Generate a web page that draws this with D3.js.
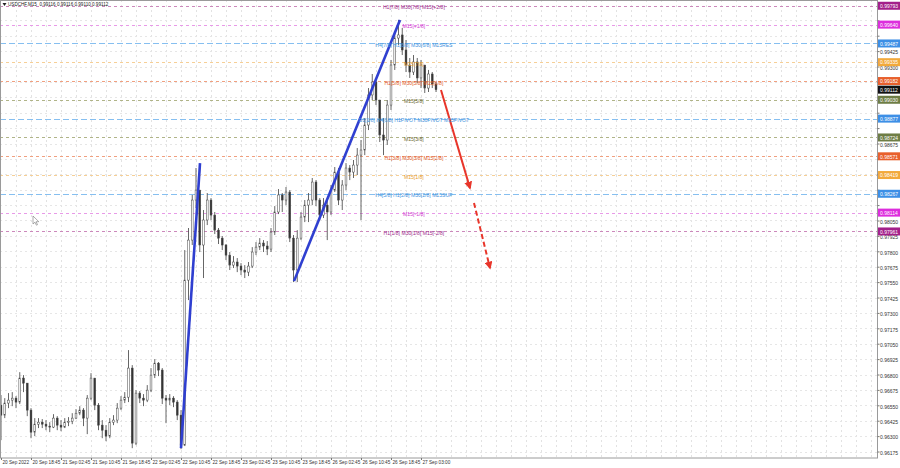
<!DOCTYPE html>
<html><head><meta charset="utf-8">
<script src="https://cdn.jsdelivr.net/npm/d3@7"></script>
<style>body{margin:0;background:#fff}svg{display:block;font-family:"Liberation Sans",Arial,sans-serif}</style>
</head><body><svg id="c" width="900" height="468"></svg>
<script>
// ---- DATA (hourly bars) ----
const firstOpen = 0.96551;
const closes = [0.96470,0.96568,0.96592,0.96608,0.96576,0.96771,0.96730,0.96511,0.96332,0.96397,
0.96413,0.96397,0.96381,0.96373,0.96446,0.96389,0.96373,0.96413,0.96421,0.96446,
0.96486,0.96511,0.96446,0.96608,0.96771,0.96551,0.96389,0.96348,0.96300,0.96413,
0.96430,0.96527,0.96592,0.96616,0.96852,0.96243,0.96649,0.96608,0.96592,0.96673,
0.96795,0.96892,0.96836,0.96608,0.96592,0.96608,0.96576,0.96470,0.96227,0.97566,
0.97891,0.98216,0.98297,0.97851,0.98054,0.98216,0.98094,0.97972,0.97907,0.97851,
0.97769,0.97688,0.97713,0.97680,0.97648,0.97631,0.97680,0.97794,0.97834,0.97867,
0.97843,0.97818,0.97956,0.98119,0.98257,0.98216,0.98281,0.97907,0.97648,0.97907,
0.98078,0.98175,0.98216,0.98362,0.98216,0.98094,0.98175,0.98119,0.98297,0.98443,
0.98216,0.98338,0.98476,0.98443,0.98500,0.98581,0.98622,0.98825,0.99069,0.99174,
0.99028,0.98744,0.98703,0.98987,0.99312,0.99531,0.99556,0.99434,0.99312,0.99255,
0.99337,0.99207,0.99312,0.99125,0.99239,0.99158,0.99112];
const highs = [0.96633,0.96608,0.96649,0.96657,0.96624,0.96819,0.96795,0.96730,0.96527,0.96446,
0.96446,0.96438,0.96430,0.96413,0.96478,0.96462,0.96430,0.96446,0.96454,0.96486,
0.96519,0.96543,0.96527,0.96633,0.96811,0.96754,0.96568,0.96430,0.96389,0.96446,
0.96470,0.96568,0.96624,0.96657,0.96998,0.96876,0.96673,0.96665,0.96641,0.96714,
0.96852,0.96925,0.96901,0.96852,0.96633,0.96641,0.96624,0.96592,0.96511,0.97810,
0.97989,0.98257,0.98476,0.98297,0.98135,0.98273,0.98232,0.98119,0.97989,0.97924,
0.97859,0.97794,0.97761,0.97745,0.97704,0.97688,0.97713,0.97834,0.97875,0.97907,
0.97891,0.97883,0.97989,0.98167,0.98305,0.98273,0.98322,0.98297,0.97932,0.97972,
0.98119,0.98216,0.98273,0.98395,0.98378,0.98232,0.98232,0.98216,0.98338,0.98484,
0.98476,0.98378,0.98516,0.98500,0.98541,0.98638,0.98703,0.98882,0.99125,0.99239,
0.99190,0.99028,0.98882,0.99028,0.99353,0.99580,0.99678,0.99613,0.99515,0.99369,
0.99393,0.99369,0.99353,0.99312,0.99272,0.99255,0.99174];
const lows = [0.96267,0.96446,0.96527,0.96543,0.96527,0.96560,0.96657,0.96462,0.96283,0.96300,
0.96365,0.96365,0.96348,0.96332,0.96365,0.96348,0.96340,0.96365,0.96381,0.96397,
0.96438,0.96470,0.96381,0.96316,0.96592,0.96511,0.96348,0.96283,0.96259,0.96283,
0.96389,0.96405,0.96511,0.96568,0.96576,0.96202,0.96227,0.96568,0.96543,0.96576,
0.96657,0.96771,0.96787,0.96560,0.96405,0.96551,0.96535,0.96430,0.96194,0.96219,
0.97404,0.97851,0.98151,0.97794,0.97583,0.98013,0.98054,0.97940,0.97859,0.97810,
0.97729,0.97648,0.97664,0.97631,0.97607,0.97583,0.97599,0.97664,0.97769,0.97810,
0.97794,0.97769,0.97794,0.97932,0.98102,0.98119,0.98175,0.97875,0.97550,0.97550,
0.97891,0.98037,0.98037,0.98175,0.98167,0.98054,0.98070,0.97891,0.98094,0.98281,
0.98175,0.98135,0.98297,0.98378,0.98395,0.98419,0.98054,0.98581,0.98784,0.99028,
0.98987,0.98687,0.98581,0.98663,0.98947,0.99272,0.99475,0.99393,0.99255,0.99207,
0.99231,0.99166,0.99125,0.99085,0.99093,0.99125,0.99093];

const timeLabels = ["20 Sep 2022","20 Sep 18:45","21 Sep 02:45","21 Sep 10:45","21 Sep 18:45","22 Sep 02:45","22 Sep 10:45","22 Sep 18:45","23 Sep 02:45","23 Sep 10:45","23 Sep 18:45","26 Sep 02:45","26 Sep 10:45","26 Sep 18:45","27 Sep 03:00"];
const timeLabelBars = [0,8,16,24,32,40,48,56,64,72,80,88,96,104,112];
const gridBars = [4,8,12,16,20,24,28,32,36,40,44,48,52,56,60,64,68,72,76,80,84,88,92,96,100,104,108,112,116,120,124,128,132,136,140,144,148,152,156,160,164,168,172,176,180,184,188,192,196,200,204,208,212,216,220,224,228,232];
const priceTicks = [0.99675,0.99550,0.99425,0.99300,0.99175,0.99050,0.98925,0.98800,0.98675,0.98550,0.98425,0.98300,0.98175,0.98050,0.97925,0.97800,0.97675,0.97550,0.97425,0.97300,0.97175,0.97050,0.96925,0.96800,0.96675,0.96550,0.96425,0.96300,0.96175];

const levelPrices = [0.99793,0.99640,0.99487,0.99335,0.99182,0.99030,0.98877,0.98724,0.98571,0.98419,0.98267,0.98114,0.97961];
const levelNames = ["H1[7/8] M30[7/8] M15[+2/8]","M15[+1/8]","H4[7/8] H1[6/8] M30[6/8] M15RES","M15[7/8]","H1[5/8] M30[5/8] M15[6/8]","M15[5/8]","D1[1/8] H4[6/8] H1PIVOT M30PIVOT M15PIVOT","M15[3/8]","H1[3/8] M30[3/8] M15[2/8]","M15[1/8]","H4[5/8] H1[2/8] M30[2/8] M15SUP","M15[-1/8]","H1[1/8] M30[1/8] M15[-2/8]"];
const levelKinds = ["purple","magenta","blue","gold","red","olive","blue","olive","red","gold","blue","magenta","purple"];

const currentPrice = 0.99112;
const headerText = "USDCHF,M15  0.99116 0.99116 0.99110 0.99112";

const blueTrend1 = [[48,0.96202],[53.07,0.98516]];
const blueTrend2 = [[78.13,0.97558],[106.4,0.99678]];
const redArrow = [[117.33,0.99109],[125.07,0.98313]];
const redDashedArrow = [[126.13,0.98192],[130.4,0.97664]];
const labelBar = 110.1;

// ---- STYLE ----
const kindColor = {purple:"#a3208a",magenta:"#dd2edd",blue:"#3d8fe6",gold:"#f2a93b",red:"#e8602c",olive:"#6e7d45"};
const lineColor = {purple:"#cc88bb",magenta:"#e89ae8",blue:"#86bff0",gold:"#f6cf96",red:"#f0a080",olive:"#b0b488"};
const textColor = {purple:"#9c2a8c",magenta:"#d23bd2",blue:"#3f93e0",gold:"#e8a030",red:"#e05a25",olive:"#6e6b35"};

const svg = d3.select("#c");
const plotR = 877, plotB = 458;
const x = d3.scaleLinear().domain([0,100]).range([1,376]);
const y = d3.scaleLinear().domain([0.96175,0.99675]).range([451.5,20.3]);

svg.append("defs").append("clipPath").attr("id","pc").append("rect")
  .attr("x",0).attr("y",0).attr("width",plotR).attr("height",plotB);
svg.select("defs").append("marker").attr("id","ah").attr("viewBox","0 0 10 10")
  .attr("refX",8).attr("refY",5).attr("markerWidth",4).attr("markerHeight",4)
  .attr("orient","auto").append("path").attr("d","M0,0 L10,5 L0,10 z").attr("fill","#e8352a");

const g = svg.append("g").attr("clip-path","url(#pc)");

// grid
g.selectAll(".vg").data(gridBars).join("line")
  .attr("x1",d=>Math.round(x(d))+0.5).attr("x2",d=>Math.round(x(d))+0.5)
  .attr("y1",0).attr("y2",plotB)
  .attr("stroke","#e2e2e2").attr("stroke-width",1).attr("stroke-dasharray","2,3");
g.selectAll(".hg").data(priceTicks).join("line")
  .attr("x1",0).attr("x2",plotR)
  .attr("y1",d=>Math.round(y(d))+0.5).attr("y2",d=>Math.round(y(d))+0.5)
  .attr("stroke","#e6e6e6").attr("stroke-width",1).attr("stroke-dasharray","2,3");

// level lines
g.selectAll(".lv").data(levelPrices).join("line")
  .attr("x1",0).attr("x2",plotR)
  .attr("y1",d=>Math.round(y(d))+0.5).attr("y2",d=>Math.round(y(d))+0.5)
  .attr("stroke",(d,i)=>lineColor[levelKinds[i]]).attr("stroke-width",1)
  .attr("stroke-dasharray",(d,i)=>levelKinds[i]==="blue"?"6,3":"3,3");

// candles
const bars = closes.map((c,i)=>({i, o: i===0?firstOpen:closes[i-1], h:highs[i], l:lows[i], c}));
g.selectAll(".wk").data(bars).join("line")
  .attr("x1",d=>x(d.i)).attr("x2",d=>x(d.i))
  .attr("y1",d=>y(d.h)).attr("y2",d=>y(d.l))
  .attr("stroke","#555").attr("stroke-width",0.9);
g.selectAll(".bd").data(bars).join("rect")
  .attr("x",d=>x(d.i)-0.9).attr("width",1.8)
  .attr("y",d=>y(Math.max(d.o,d.c)))
  .attr("height",d=>Math.max(1,Math.abs(y(d.o)-y(d.c))))
  .attr("fill",d=>d.c>=d.o?"#ffffff":"#333")
  .attr("stroke","#444").attr("stroke-width",0.5);

// trend lines
const ln = d3.line().x(d=>x(d[0])).y(d=>y(d[1]));
g.append("path").attr("d",ln(blueTrend1)).attr("stroke","#2f3fd0").attr("stroke-width",2.6).attr("fill","none");
g.append("path").attr("d",ln(blueTrend2)).attr("stroke","#2f3fd0").attr("stroke-width",2.6).attr("fill","none");
g.append("path").attr("d",ln(redArrow)).attr("stroke","#e8352a").attr("stroke-width",2).attr("fill","none").attr("marker-end","url(#ah)");
g.append("path").attr("d",ln(redDashedArrow)).attr("stroke","#e8352a").attr("stroke-width",2).attr("stroke-dasharray","5,3").attr("fill","none").attr("marker-end","url(#ah)");

// level text
g.selectAll(".lt").data(levelPrices).join("text")
  .attr("x",x(labelBar)).attr("y",d=>y(d)+1.6)
  .attr("text-anchor","middle").attr("dominant-baseline","central")
  .attr("font-size",5.1).attr("fill",(d,i)=>textColor[levelKinds[i]])
  .text((d,i)=>levelNames[i]);

// cursor glyph
svg.append("path").attr("d","M33,216 l0,8 l2,-1.8 l1.4,3 l1.1,-0.5 l-1.4,-3 l2.7,0 z")
  .attr("fill","#fff").attr("stroke","#777").attr("stroke-width",0.6);

// frame
svg.append("rect").attr("x",0.5).attr("y",0.5).attr("width",plotR).attr("height",plotB-0.5)
  .attr("fill","none").attr("stroke","#9a9a9a").attr("stroke-width",1);

// price axis (labels hidden where a level box covers them, as in the reference)
const boxPrices = levelPrices.concat([currentPrice]);
const visibleTicks = priceTicks.filter(t=>boxPrices.every(p=>Math.abs(y(p)-(y(t)+3))>6.5));
const ya = d3.axisRight(y).tickValues(priceTicks)
  .tickFormat(d=>visibleTicks.includes(d)?d3.format(".5f")(d):"").tickSize(2).tickPadding(1);
const yg = svg.append("g").attr("transform",`translate(${plotR+0.5},0)`).call(ya);
yg.select(".domain").remove();
yg.selectAll("line").attr("stroke","#777");
yg.selectAll("text").attr("font-size",5).attr("fill","#333").attr("dy","0.55em").attr("x",2.5);

// time axis
const xa = d3.axisBottom(x).tickValues(timeLabelBars).tickFormat((d,i)=>timeLabels[i]).tickSize(2).tickPadding(1);
const xg = svg.append("g").attr("transform",`translate(0,${plotB})`).call(xa);
xg.select(".domain").remove();
xg.selectAll("line").attr("stroke","#777");
xg.selectAll("text").attr("font-size",4.7).attr("fill","#333").attr("text-anchor","start").attr("dx","0.2em");

// level boxes
const bx = svg.append("g");
levelPrices.forEach((p,i)=>{
  const yy = y(p);
  bx.append("rect").attr("x",plotR+1).attr("y",yy-4).attr("width",22).attr("height",8).attr("fill",kindColor[levelKinds[i]]);
  bx.append("text").attr("x",plotR+3).attr("y",yy+0.3).attr("dominant-baseline","central")
    .attr("font-size",5).attr("fill","#fff").text(d3.format(".5f")(p));
});
{
  const yy = y(currentPrice);
  bx.append("rect").attr("x",plotR+1).attr("y",yy-4).attr("width",22).attr("height",8).attr("fill","#111");
  bx.append("text").attr("x",plotR+3).attr("y",yy+0.3).attr("dominant-baseline","central")
    .attr("font-size",5).attr("fill","#fff").text(d3.format(".5f")(currentPrice));
}

// header
svg.append("path").attr("d","M2.5,3 L6.5,3 L4.5,6 z").attr("fill","#222");
svg.append("text").attr("x",8).attr("y",4.6).attr("dominant-baseline","central")
  .attr("font-size",4.6).attr("fill","#222").attr("xml:space","preserve").text(headerText);
</script></body></html>
